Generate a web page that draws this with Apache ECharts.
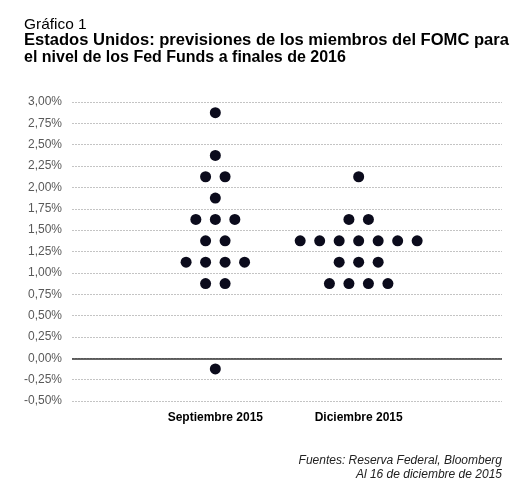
<!DOCTYPE html>
<html>
<head>
<meta charset="utf-8">
<script src="https://cdn.jsdelivr.net/npm/echarts@6/dist/echarts.min.js"></script>
<style>
  html, body { margin: 0; padding: 0; background: #fff; }
  #chart { width: 514px; height: 492px; }
</style>
</head>
<body>
<div id="chart"></div>
<script>
// FOMC dot plot, end-2016 fed funds projections
var categories = ['Septiembre 2015', 'Diciembre 2015'];
var septLevels = [2.875, 2.375, 2.125, 1.875, 1.625, 1.375, 1.125, 0.875, -0.125];
var septCounts = [1, 1, 2, 1, 3, 2, 4, 2, 1];
var decLevels = [2.125, 1.625, 1.375, 1.125, 0.875];
var decCounts = [1, 2, 7, 3, 4];
var yTicks = { min: -0.5, max: 3, step: 0.25 };

var font = "'Liberation Sans', Arial, sans-serif";
var dotGap = 0.136; // horizontal spacing between dots in one row (x units)

// spread the dots of each level around the category centre
function dots(levels, counts, catIndex) {
  var out = [];
  for (var i = 0; i < levels.length; i++) {
    for (var j = 0; j < counts[i]; j++) {
      out.push([catIndex + 1 + (j - (counts[i] - 1) / 2) * dotGap, levels[i]]);
    }
  }
  return out;
}

var myChart = echarts.init(document.getElementById('chart'));
option = {
  backgroundColor: '#fff',
  animation: false,
  graphic: [
    {
      type: 'text', x: 24, y: 17, scaleX: 1.03,
      style: { text: 'Gráfico 1', font: '15px ' + font, fill: '#000' }
    },
    {
      type: 'text', x: 24, y: 33, scaleX: 1.035,
      style: {
        text: 'Estados Unidos: previsiones de los miembros del FOMC para',
        font: 'bold 16px ' + font, fill: '#000'
      }
    },
    {
      type: 'text', x: 24, y: 50,
      style: {
        text: 'el nivel de los Fed Funds a finales de 2016',
        font: 'bold 16px ' + font, fill: '#000'
      }
    },
    {
      type: 'text', x: 502, y: 454,
      style: {
        text: 'Fuentes: Reserva Federal, Bloomberg\nAl 16 de diciembre de 2015',
        font: 'italic 12px ' + font, fill: '#222',
        textAlign: 'right', textVerticalAlign: 'top', lineHeight: 13.5
      }
    }
  ],
  grid: { left: 72, right: 12, top: 102, bottom: 91 },
  xAxis: {
    type: 'value', min: 0, max: 3, interval: 1,
    axisLine: { show: false }, axisTick: { show: false }, splitLine: { show: false },
    axisLabel: {
      margin: 11,
      fontFamily: font, fontSize: 12, fontWeight: 'bold', color: '#000',
      formatter: function (v) { return categories[v - 1] || ''; }
    }
  },
  yAxis: {
    type: 'value', min: yTicks.min, max: yTicks.max, interval: yTicks.step,
    axisLine: { show: false }, axisTick: { show: false },
    splitLine: { lineStyle: { color: '#c4c4c4', type: [2, 1], width: 1 } },
    axisLabel: {
      margin: 10, fontFamily: font, fontSize: 12, color: '#595959',
      formatter: function (v) { return v.toFixed(2).replace('.', ',') + '%'; }
    }
  },
  series: [
    {
      type: 'scatter', name: categories[0],
      data: dots(septLevels, septCounts, 0),
      symbolSize: 11,
      itemStyle: { color: '#0b0b1c', opacity: 1 },
      markLine: {
        silent: true, symbol: 'none', label: { show: false },
        lineStyle: { color: '#333', width: 1.5, type: 'solid' },
        data: [{ yAxis: 0 }]
      }
    },
    {
      type: 'scatter', name: categories[1],
      data: dots(decLevels, decCounts, 1),
      symbolSize: 11,
      itemStyle: { color: '#0b0b1c', opacity: 1 }
    }
  ]
};
myChart.setOption(option);
</script>
</body>
</html>
